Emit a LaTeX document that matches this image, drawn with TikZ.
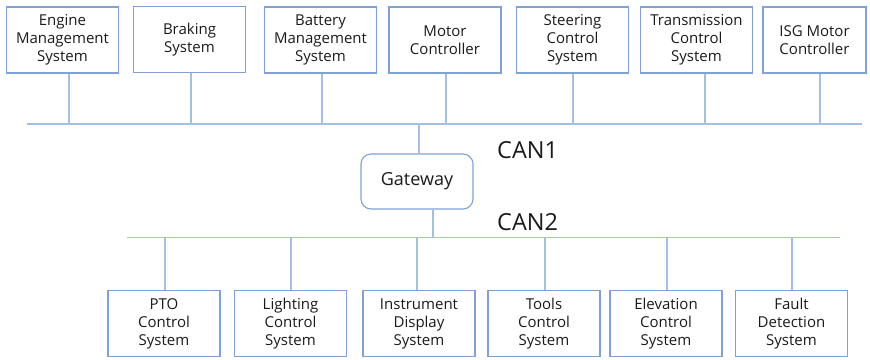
\documentclass[tikz,border=0pt]{standalone}
\usepackage{fontspec}
\setmainfont{Open Sans}
\definecolor{boxblue}{HTML}{7FA2D6}
\definecolor{lineblue}{HTML}{A3BFE6}
\definecolor{txt}{HTML}{1A1A1A}
\begin{document}
\begin{tikzpicture}[x=1pt,y=-1pt,
  sysbox/.style={draw=boxblue,line width=1.1pt,minimum width=112pt,minimum height=66pt,
    align=center,font=\fontsize{15}{18}\selectfont,text=txt,inner sep=1pt},
  gw/.style={draw=boxblue,line width=1.1pt,rounded corners=10pt,minimum width=112pt,minimum height=55pt,
    font=\fontsize{18}{20}\selectfont,text=txt},
  busline/.style={draw=lineblue,line width=1.3pt},
  lbl/.style={font=\fontsize{23.5}{27}\selectfont,text=txt,anchor=west,inner sep=0pt}]
\useasboundingbox (0,0) rectangle (870,359);
% top boxes
\node[sysbox] (t1) at (62.5,40) {Engine\\Management\\System};
\node[sysbox] (t2) at (189.5,39.5) {Braking\\System};
\node[sysbox] (t3) at (320.5,40) {Battery\\Management\\System};
\node[sysbox] (t4) at (445,40) {Motor\\Controller};
\node[sysbox] (t5) at (572.5,40) {Steering\\Control\\System};
\node[sysbox] (t6) at (696.5,40) {Transmission\\Control\\System};
\node[sysbox,minimum width=103pt] (t7) at (814.5,40) {ISG Motor\\Controller};
% CAN1 bus
\coordinate (c1l) at (27,124);
\coordinate (c1r) at (862,124);
\draw[busline] (c1l) -- (c1r);
\foreach \n/\x in {t1/69,t2/191,t3/322,t4/446,t5/573,t6/705,t7/820}{
  \coordinate (\n b) at (\x,124);
  \draw[busline] (\n.south -| \n b) -- (\n b);
}
% gateway
\node[gw] (gw) at (417,181.5) {Gateway};
\coordinate (g1) at (419,124);
\coordinate (g2) at (433,237.5);
\draw[busline] (g1) -- (gw.north -| g1);
\draw[busline] (gw.south -| g2) -- (g2);
\node[lbl] (can1) at (497,150) {CAN1};
\node[lbl] (can2) at (497,222) {CAN2};
% CAN2 bus
\coordinate (c2l) at (127,237.5);
\coordinate (c2r) at (840,237.5);
\draw[busline] (c2l) -- (c2r);
% bottom boxes
\node[sysbox] (b1) at (164,323.5) {PTO\\Control\\System};
\node[sysbox] (b2) at (290.5,323.5) {Lighting\\Control\\System};
\node[sysbox] (b3) at (419,323.5) {Instrument\\Display\\System};
\node[sysbox] (b4) at (544,323.5) {Tools\\Control\\System};
\node[sysbox] (b5) at (666,323.5) {Elevation\\Control\\System};
\node[sysbox] (b6) at (791.5,323.5) {Fault\\Detection\\System};
\foreach \n/\x in {b1/165,b2/291,b3/417,b4/545,b5/667,b6/792}{
  \coordinate (\n t) at (\x,237.5);
  \draw[busline] (\n t) -- (\n.north -| \n t);
}
\end{tikzpicture}
\end{document}
